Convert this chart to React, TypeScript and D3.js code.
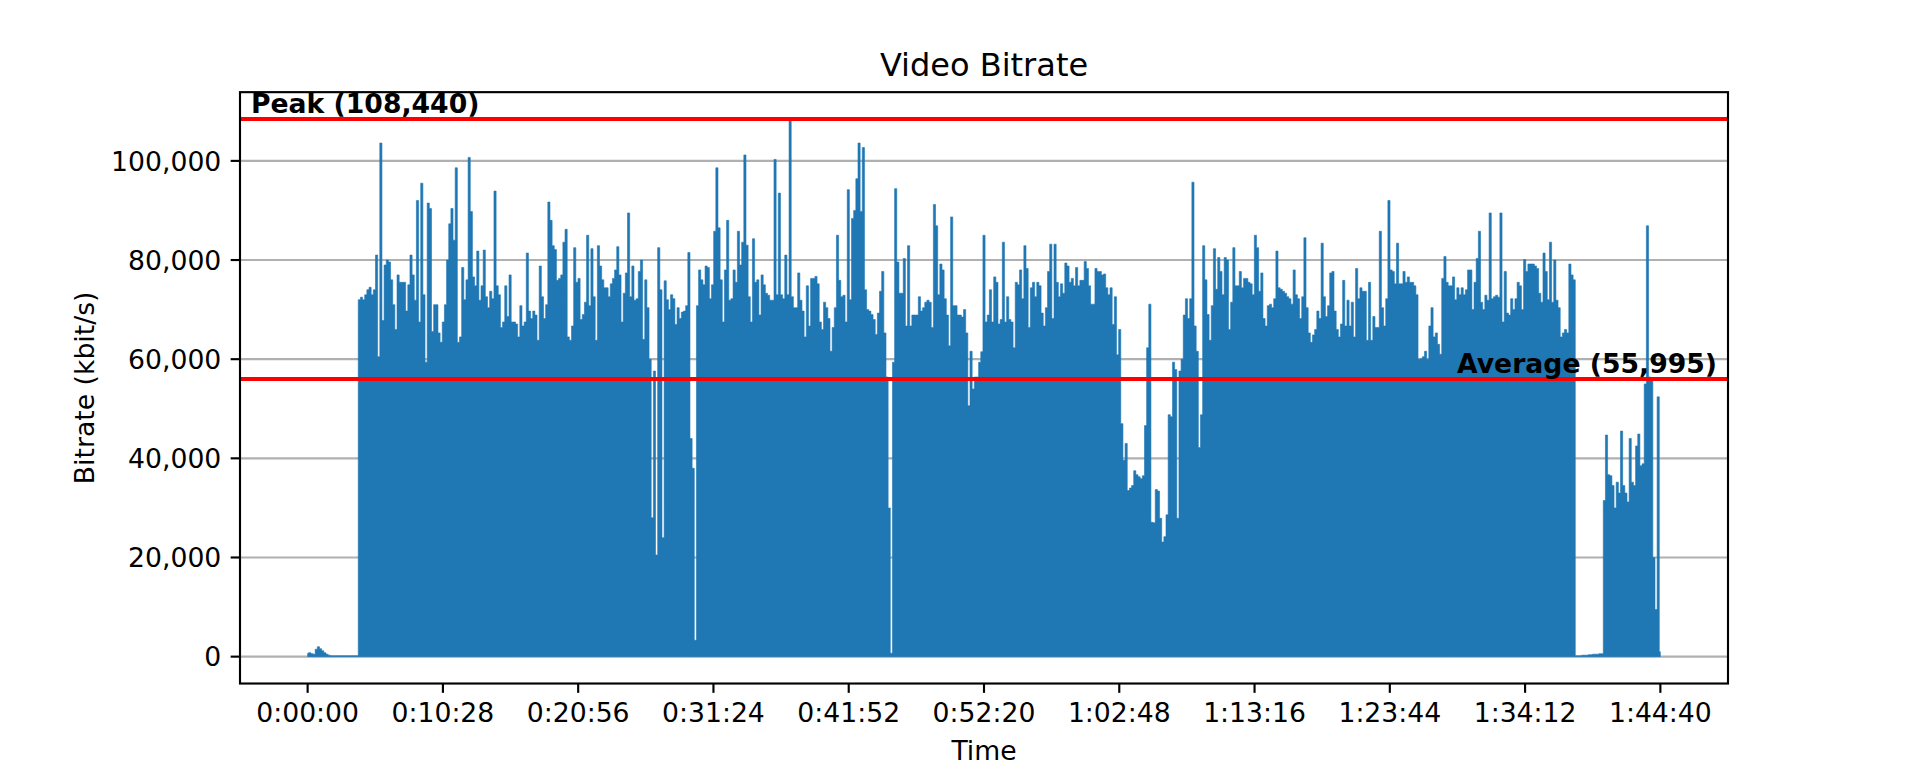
import React from "react";
import * as d3 from "d3";

// Sampling step of the series (seconds)
const STEP_SECONDS = 10;

// Bitrate in thousands of kbit/s, one value every STEP_SECONDS
const seg0 = [
  0.7, 0.8, 0.6, 0.5, 1.5, 2.0, 1.6, 1.2, 0.8, 0.5,
  0.3, 0.2, 0.2, 0.2, 0.2, 0.2, 0.2, 0.2, 0.2, 0.2,
  0.2, 0.2, 0.2, 0.2, 72, 72.5, 72, 73, 74, 74.5,
  73, 74, 81, 60.5, 103.6, 67.8, 79, 80, 79.6, 76,
  71, 66, 77, 75.5, 75.5, 75.5, 69.7, 75, 81, 77,
  71.9, 92, 67.5, 95.5, 73, 59.4, 91.5, 90.4, 65.6, 71,
  71, 65.3, 63.4, 67.5, 71, 80, 87.3, 90.4, 84, 98.6,
  63.4, 64.5, 78.5, 72, 76, 100.7, 89.8, 76.6, 74.8, 81.8,
  71.9, 74.8, 82, 72.6, 70.4, 73.7, 72.2, 93.9, 74.8, 73,
  66.4, 67.5, 74.8, 68.6, 77, 67.5, 67.5, 67.1, 64.5, 70.8,
  66.7, 67.5, 81.4, 69.7, 68.2, 69.7, 68.9, 63.8, 78.8, 72.6,
  68.2, 71, 91.7, 88, 82.9, 82.1, 75.9, 76.3, 77, 83.6,
  86.2, 64.5, 63.8, 66.7, 82.5, 75.5, 76.3,
];
const seg1 = [
  68, 69, 71.5, 85, 70.8, 82.3, 72.6, 63.8, 82.9, 78.8,
  76, 74.4, 74.4, 72.6, 75.2, 76.3, 78, 82.7, 77, 67.5,
  73.3, 77.4, 89.5, 72.6, 78.8, 71.9, 72.2, 77.7, 80, 64,
  76, 70.4, 60, 28, 57.6, 20.5, 82.5, 74, 24, 75.8,
  72, 70, 73, 72.2, 67, 70.4, 68.2, 69.5, 69.7, 70.8,
  81.5, 44, 38, 3.3, 70.8, 78, 76, 75, 78.8, 78.5,
  72.2, 75, 85.8, 98.6, 86.5, 76, 67.5, 78, 88, 71.9,
  72.2, 78, 75.5, 85.8, 79, 83.6, 101.2, 83, 72.6, 67.5,
  84.3, 75.5, 76, 68.9, 77, 75, 73.3, 72.9, 71.9, 71.9,
  100.3, 73, 93.5, 73, 72.2, 81, 73, 108.44, 72.6, 70.4,
  70.4, 77.4, 71.9, 69.7, 64.5, 74.8, 66.7, 76.3, 76.3, 76.7,
  75.2, 67.5, 66, 71.5, 70.4, 68.2, 61.6, 66.4, 70.4, 85,
  75.9, 72.6, 72.9, 67.5, 94.2,
];
const seg2 = [
  72, 88.4, 90, 96.4, 103.6, 89.8, 102.7, 74, 70, 69.7,
  69, 68, 65, 69.3, 73.7, 77.7, 65.3, 56.4, 30, 0.7,
  59.4, 94.4, 79.6, 73.3, 73.3, 80.3, 66.7, 82.9, 66.7, 68.9,
  68.9, 68.9, 72.6, 69.7, 70.4, 71.5, 71.9, 71.5, 66.4, 91.2,
  86.9, 73, 79.2, 78, 72.2, 68.9, 62.7, 88.7, 70.8, 70.8,
  68.9, 68.9, 68.5, 70, 65.3, 50.6, 61.6, 54, 56.4, 56.4,
  59.4, 61.5, 85, 67.5, 68.9, 74, 67.5, 76.6, 75.5, 67.1,
  68, 83.6, 67.5, 72.6, 68, 67.5, 62.3, 75.5, 75, 78,
  72.2, 82.9, 78.3, 66.4, 74.4, 75.5, 72.6, 75.5, 74.8, 69.3,
  66.7, 70.4, 77.7, 83.2, 68.2, 83.2, 75.5, 72.6, 75.2, 73.3,
  79.4, 78.8, 75.5, 76.3, 74.8, 78.5, 74.8, 75.9, 75.9, 79.7,
  78.3, 74.8, 71.1, 71.1, 78.3, 77.7, 77.7, 77, 77.2, 74.4,
  73, 74.4, 67, 72.6, 60.9,
];
const seg3 = [
  66, 47, 39.6, 43, 33.5, 34, 34.5, 37.5, 36.7, 36.3,
  35.9, 36.5, 46.6, 62.3, 71.1, 27.1, 27, 33.7, 33.4, 27.9,
  23.1, 24.2, 28.6, 48.8, 48.4, 59.4, 57.9, 27.9, 57.6, 60,
  68.9, 72.2, 68.2, 72.2, 95.7, 66.7, 61.6, 42.2, 48.8, 82.9,
  76, 69, 63.8, 70.8, 82.3, 74.1, 80.5, 77.7, 73, 80.5,
  80, 66, 71.5, 82.5, 74.8, 74.8, 77.7, 74.4, 76.3, 76.3,
  75.5, 75.2, 73, 85, 82.5, 73.7, 77.4, 68.2, 66.7, 70.8,
  71.1, 70.4, 72.2, 81.8, 74.4, 74.1, 73.7, 73.3, 72.6, 72.2,
  71.1, 78, 73, 72.2, 68.2, 72.6, 84.5, 70.4, 65.3, 63.4,
  64.9, 66, 69.7, 68.2, 83.4, 72.6, 68.6, 70.8, 77.4, 77.7,
  69.7, 66, 64.5, 67.1, 75.9, 66.7, 71.9, 66.7, 71.5, 64.5,
  78.3, 72.2, 74.4, 73.7, 73.7, 63.8, 75.5, 63.8, 68.6, 66.4,
  66.4, 85.8, 70.4, 66.7, 72.2,
];
const seg4 = [
  92, 78, 77.7, 75.2, 83.4, 75.2, 75.2, 77.7, 75.5, 76.6,
  75.5, 75.5, 74.8, 73, 60, 60.1, 60.5, 61.6, 60, 66.7,
  70.4, 64.5, 65.3, 63, 61, 76.3, 80.7, 75.5, 74.8, 74.8,
  76.6, 72, 74.4, 73, 74.4, 73, 74, 78, 78, 70,
  75.5, 80.3, 85.8, 71.5, 70, 72.9, 71.9, 89.5, 72.2, 72.6,
  72.9, 72.5, 89.5, 67.5, 77.7, 69.3, 68.9, 72.2, 70, 72.2,
  75.5, 74.8, 70, 80.1, 77.7, 79.2, 79.2, 79.2, 78.8, 78.3,
  73.3, 71.5, 81.4, 77.7, 72, 83.6, 71.5, 80, 71.9, 70.4,
  64.5, 65.3, 66, 65.3, 79.2, 77, 76, 0.2, 0.2, 0.2,
  0.3, 0.3, 0.3, 0.4, 0.4, 0.5, 0.5, 0.5, 0.6, 0.6,
  31.5, 44.7, 36.7, 36.5, 34.5, 30, 35.2, 33, 45.5, 34.5,
  33, 31.2, 44, 35.2, 34.5, 42.5, 44.9, 38.5, 38.9, 55,
  86.9, 56.4, 55.7, 20, 9.5, 52.4, 1,
];

const AVERAGE_KBPS = 55995;
const Y_TICKS = [0, 20000, 40000, 60000, 80000, 100000];
const X_TICK_COUNT = 11;

const TITLE = "Video Bitrate";
const X_LABEL = "Time";
const Y_LABEL = "Bitrate (kbit/s)";

const W = 1920;
const H = 768;
const AX = { left: 240, right: 1728, top: 92.16, bottom: 683.52 };
const FONT = "'DejaVu Sans', 'Liberation Sans', sans-serif";
const FS = 26.67;
const BLUE = "#1f77b4";

const pad2 = (n: number) => String(n).padStart(2, "0");
const fmtTime = (s: number) => {
  const r = Math.round(s);
  const h = Math.floor(r / 3600);
  const m = Math.floor((r % 3600) / 60);
  const sec = r % 60;
  return `${h}:${pad2(m)}:${pad2(sec)}`;
};

export default function App() {
  const kValues = [...seg0, ...seg1, ...seg2, ...seg3, ...seg4];
  const data = kValues.map((k, i) => ({ t: i * STEP_SECONDS, v: k * 1000 }));
  const tMax = d3.max(data, (d) => d.t) as number;
  const peak = d3.max(data, (d) => d.v) as number;

  const xPad = tMax * 0.05;
  const x = d3.scaleLinear().domain([-xPad, tMax + xPad]).range([AX.left, AX.right]);
  const yPad = peak * 0.05;
  const y = d3.scaleLinear().domain([-yPad, peak + yPad]).range([AX.bottom, AX.top]);

  const xTicks = d3.range(X_TICK_COUNT).map((k) => (tMax * k) / (X_TICK_COUNT - 1));
  const fmtNum = d3.format(",");

  const area = d3
    .area<{ t: number; v: number }>()
    .x((d) => x(d.t))
    .y0(y(0))
    .y1((d) => y(d.v))
    .curve(d3.curveStep);

  const tickLen = 9.33;
  const tickPad = 9.33;
  const lw = 2.13;
  const descent = FS * 0.236;

  return (
    <svg
      width={W}
      height={H}
      viewBox={`0 0 ${W} ${H}`}
      style={{ position: "absolute", left: 0, top: 0, background: "#fff", display: "block" }}
      fontFamily={FONT}
    >
      <rect x={0} y={0} width={W} height={H} fill="#fff" />
      <defs>
        <clipPath id="plotclip">
          <rect x={AX.left} y={AX.top} width={AX.right - AX.left} height={AX.bottom - AX.top} />
        </clipPath>
      </defs>

      {/* grid */}
      {Y_TICKS.map((t) => (
        <line
          key={"g" + t}
          x1={AX.left}
          x2={AX.right}
          y1={y(t)}
          y2={y(t)}
          stroke="#b0b0b0"
          strokeWidth={lw}
        />
      ))}

      {/* area */}
      <g clipPath="url(#plotclip)">
        <path d={area(data) || ""} fill={BLUE} stroke={BLUE} strokeWidth={0.6} />
      </g>

      {/* reference lines */}
      <line x1={AX.left} x2={AX.right} y1={y(peak)} y2={y(peak)} stroke="#ff0000" strokeWidth={4} />
      <line
        x1={AX.left}
        x2={AX.right}
        y1={y(AVERAGE_KBPS)}
        y2={y(AVERAGE_KBPS)}
        stroke="#ff0000"
        strokeWidth={4}
      />

      {/* spines */}
      <rect
        x={AX.left}
        y={AX.top}
        width={AX.right - AX.left}
        height={AX.bottom - AX.top}
        fill="none"
        stroke="#000"
        strokeWidth={lw}
      />

      {/* y ticks */}
      {Y_TICKS.map((t) => (
        <g key={"yt" + t}>
          <line x1={AX.left - tickLen} x2={AX.left} y1={y(t)} y2={y(t)} stroke="#000" strokeWidth={lw} />
          <text
            x={AX.left - tickLen - tickPad}
            y={y(t) + FS * 0.364}
            fontSize={FS}
            textAnchor="end"
            fill="#000"
          >
            {fmtNum(t)}
          </text>
        </g>
      ))}

      {/* x ticks */}
      {xTicks.map((t) => (
        <g key={"xt" + t}>
          <line x1={x(t)} x2={x(t)} y1={AX.bottom} y2={AX.bottom + tickLen} stroke="#000" strokeWidth={lw} />
          <text
            x={x(t)}
            y={AX.bottom + tickLen + tickPad + FS * 0.76}
            fontSize={FS}
            textAnchor="middle"
            fill="#000"
          >
            {fmtTime(t)}
          </text>
        </g>
      ))}

      {/* labels */}
      <text x={(AX.left + AX.right) / 2} y={76} fontSize={32} textAnchor="middle" fill="#000">
        {TITLE}
      </text>
      <text x={(AX.left + AX.right) / 2} y={759.8} fontSize={FS} textAnchor="middle" fill="#000">
        {X_LABEL}
      </text>
      <text
        transform={`translate(94, ${(AX.top + AX.bottom) / 2}) rotate(-90)`}
        fontSize={FS}
        textAnchor="middle"
        fill="#000"
      >
        {Y_LABEL}
      </text>

      {/* annotations */}
      <text x={AX.left + 11} y={y(peak) - descent} fontSize={FS} fontWeight="bold" fill="#000">
        {`Peak (${fmtNum(Math.round(peak))})`}
      </text>
      <text
        x={AX.right - 11}
        y={y(AVERAGE_KBPS) - descent}
        fontSize={FS}
        fontWeight="bold"
        textAnchor="end"
        fill="#000"
      >
        {`Average (${fmtNum(AVERAGE_KBPS)})`}
      </text>
    </svg>
  );
}
